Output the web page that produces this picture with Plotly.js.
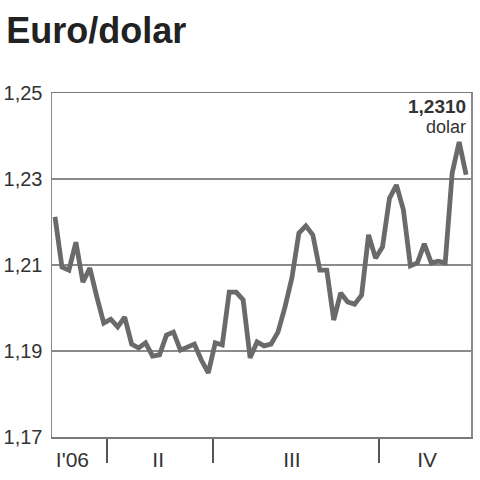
<!DOCTYPE html>
<html>
<head>
<meta charset="utf-8">
<script src="https://cdn.plot.ly/plotly-3.0.1.min.js"></script>
<style>html,body{margin:0;padding:0;background:#fff;}#chart{width:480px;height:480px;}</style>
</head>
<body>
<div id="chart"></div>
<script>
// Weekly EUR/USD readings through 2006
const rates = [1.2212,1.2095,1.2088,1.2153,1.2060,1.2093,1.2026,1.1965,1.1974,1.1956,
  1.1979,1.1916,1.1907,1.1919,1.1888,1.1891,1.1937,1.1944,1.1902,1.1909,
  1.1916,1.1879,1.1849,1.1919,1.1914,1.2037,1.2037,1.2019,1.1884,1.1921,
  1.1912,1.1916,1.1944,1.2002,1.2070,1.2174,1.2191,1.2170,1.2088,1.2088,
  1.1972,1.2035,1.2014,1.2009,1.2030,1.2170,1.2116,1.2142,1.2255,1.2286,
  1.2228,1.2098,1.2105,1.2149,1.2105,1.2109,1.2105,1.2314,1.2386,1.2310];
const weeks = rates.map((_, i) => i);
const quarterBounds = [7.46, 22.7, 46.5];
const quarterLabelPos = [2.5, 14.8, 34.0, 53.4];
const quarterLabels = ["I'06", "II", "III", "IV"];
const yTicks = [1.17, 1.19, 1.21, 1.23, 1.25];
const yTickText = ["1,17", "1,19", "1,21", "1,23", "1,25"];
const lastLabel = "1,2310";
const unitLabel = "dolar";

const xr = [-0.43, 59.7];
const data = [{
  x: weeks, y: rates, type: 'scatter', mode: 'lines',
  line: {color: '#6a6a6a', width: 4.8, shape: 'linear'},
  hoverinfo: 'skip', showlegend: false
}];
const layout = {
  width: 480, height: 480,
  margin: {l: 52, r: 9, t: 93, b: 43},
  paper_bgcolor: '#fff', plot_bgcolor: '#fff',
  font: {family: 'Liberation Sans, Arial, sans-serif', color: '#333'},
  title: {text: '<b>Euro/dolar</b>', x: 0.013, xanchor: 'left', y: 0.91, yanchor: 'bottom',
    xref: 'container', yref: 'container',
    font: {size: 36, color: '#222', family: 'Liberation Sans, Arial, sans-serif'}},
  xaxis: {range: xr, showgrid: false, zeroline: false,
    showline: true, linecolor: '#7a7a7a', linewidth: 1.5, mirror: true,
    tickmode: 'array', tickvals: quarterBounds, ticktext: quarterBounds.map(() => ''),
    ticks: 'outside', ticklen: 24, tickwidth: 1.5, tickcolor: '#555', fixedrange: true},
  xaxis2: {range: xr, overlaying: 'x', anchor: 'y', side: 'bottom',
    showgrid: false, zeroline: false, showline: false,
    tickmode: 'array', tickvals: quarterLabelPos, ticktext: quarterLabels,
    ticks: '', ticklabelstandoff: 8,
    tickfont: {size: 21, color: '#333'}},
  yaxis: {range: [1.17, 1.25], tickmode: 'array', tickvals: yTicks, ticktext: yTickText,
    showgrid: true, gridcolor: '#8a8a8a', gridwidth: 1.2, zeroline: false,
    showline: true, linecolor: '#8a8a8a', linewidth: 1.5, mirror: true,
    ticks: '', ticklabelstandoff: 4,
    tickfont: {size: 20, color: '#333'}},
  annotations: [
    {x: 59.2, y: 1.25, xref: 'x', yref: 'y', text: '<b>' + lastLabel + '</b>',
      xanchor: 'right', yanchor: 'top', yshift: -1, showarrow: false,
      font: {size: 19, color: '#333'}},
    {x: 59.2, y: 1.25, xref: 'x', yref: 'y', text: unitLabel,
      xanchor: 'right', yanchor: 'top', yshift: -22, showarrow: false,
      font: {size: 18, color: '#333'}}
  ]
};
// dummy trace to activate xaxis2
data.push({x: [0], y: [null], xaxis: 'x2', yaxis: 'y', mode: 'markers', showlegend: false, hoverinfo: 'skip'});
Plotly.newPlot('chart', data, layout, {staticPlot: true, displayModeBar: false});
</script>
</body>
</html>
